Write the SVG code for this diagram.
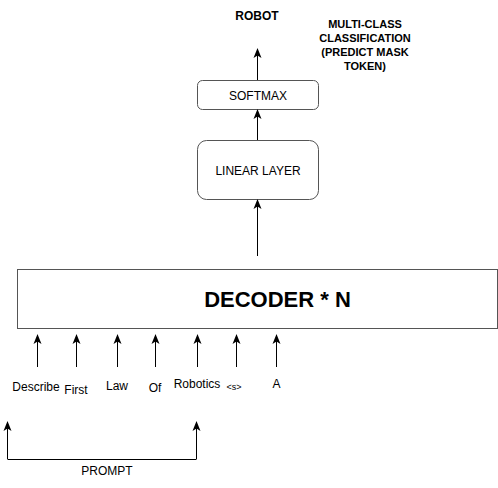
<svg xmlns="http://www.w3.org/2000/svg" width="498" height="488" viewBox="0 0 498 488">
<style>
.t{font-family:"Liberation Sans",Arial,sans-serif;font-size:12px;fill:#000;text-anchor:middle}
.b{font-weight:bold}
.box{fill:#fff;stroke:#555;stroke-width:1}
.c{stroke:#000;stroke-width:1;fill:none;marker-end:url(#ah)}
.l{stroke:#000;stroke-width:1;fill:none}
</style>
<defs>
<marker id="ah" markerUnits="userSpaceOnUse" markerWidth="10" markerHeight="10" viewBox="0 0 10 10" refX="9" refY="5" orient="auto">
<path d="M0,1 L10,5 L0,9 L2.5,5 z" fill="#000"/>
</marker>
</defs>
<rect width="498" height="488" fill="#fff"/>
<g id="decoder">
<rect class="box" x="17.5" y="269.5" width="480" height="59"/>
<text class="t b" x="277.5" y="307" style="font-size:22px">DECODER * N</text>
</g>
<g id="linear">
<rect class="box" x="197.5" y="140.5" width="121" height="59" rx="9"/>
<text class="t" x="258" y="175">LINEAR LAYER</text>
</g>
<g id="softmax">
<rect class="box" x="197.5" y="80.5" width="121" height="29" rx="5"/>
<text class="t" x="258" y="99.5">SOFTMAX</text>
</g>
<g id="robot"><text class="t b" x="257" y="20">ROBOT</text></g>
<g id="mc">
<text class="t b" x="365" y="27.5" style="font-size:11px">MULTI-CLASS</text>
<text class="t b" x="365" y="41.5" style="font-size:11px">CLASSIFICATION</text>
<text class="t b" x="365" y="55.5" style="font-size:11px">(PREDICT MASK</text>
<text class="t b" x="365" y="69.5" style="font-size:11px">TOKEN)</text>
</g>
<g id="tokens">
<text class="t" x="36" y="391">Describe</text>
<text class="t" x="76" y="394">First</text>
<text class="t" x="117" y="390">Law</text>
<text class="t" x="155" y="392">Of</text>
<text class="t" x="197" y="388">Robotics</text>
<text class="t" x="234" y="390" style="font-size:9px">&lt;s&gt;</text>
<text class="t" x="276.5" y="388">A</text>
</g>
<g id="prompt"><text class="t" x="107" y="475">PROMPT</text></g>
<g id="connectors">
<line class="c" x1="257.5" y1="80" x2="257.5" y2="49"/>
<line class="c" x1="257.5" y1="140" x2="257.5" y2="110"/>
<line class="c" x1="257.5" y1="256" x2="257.5" y2="200"/>
<line class="c" x1="37.5" y1="367" x2="37.5" y2="335"/>
<line class="c" x1="76.5" y1="367" x2="76.5" y2="335"/>
<line class="c" x1="117.5" y1="367" x2="117.5" y2="335"/>
<line class="c" x1="155.5" y1="367" x2="155.5" y2="335"/>
<line class="c" x1="197.5" y1="367" x2="197.5" y2="335"/>
<line class="c" x1="236.5" y1="367" x2="236.5" y2="335"/>
<line class="c" x1="276.5" y1="367" x2="276.5" y2="335"/>
<line class="c" x1="7.5" y1="459" x2="7.5" y2="422"/>
<line class="c" x1="196.5" y1="459" x2="196.5" y2="422"/>
<line class="l" x1="7.5" y1="459.5" x2="196.5" y2="459.5"/>
</g>
</svg>
